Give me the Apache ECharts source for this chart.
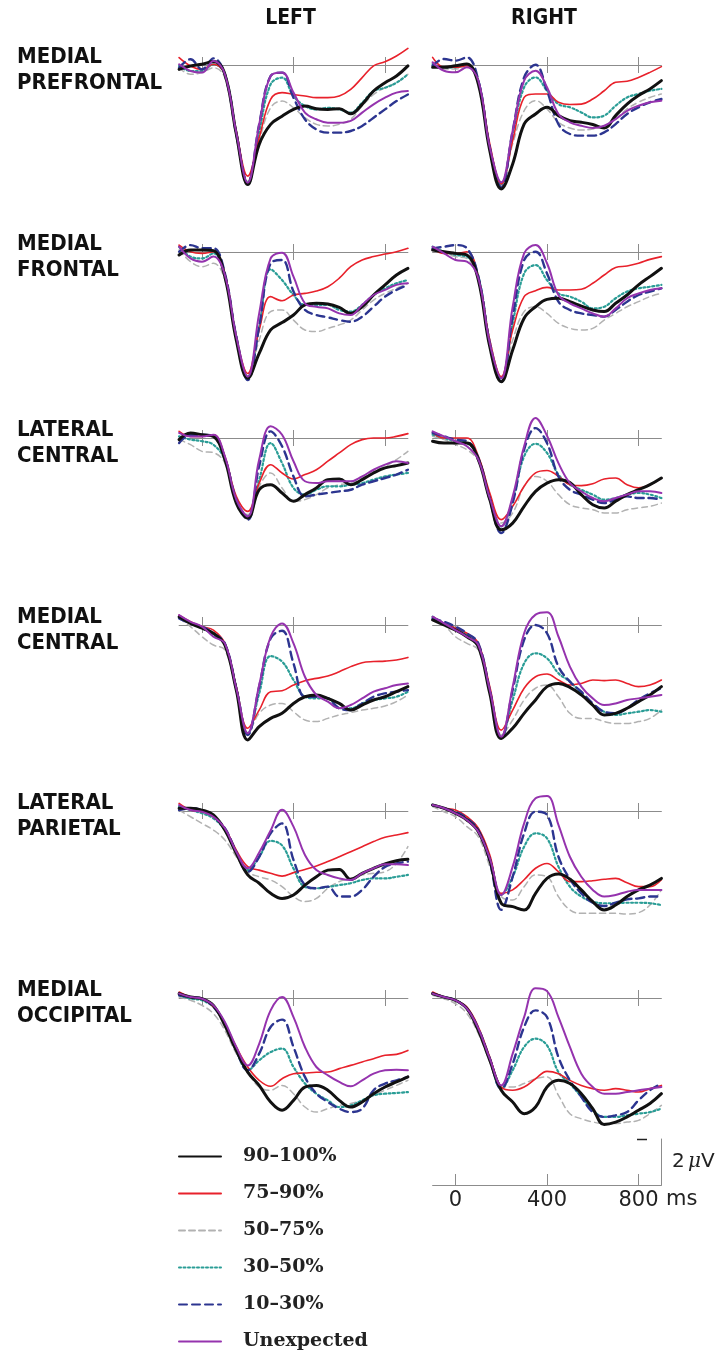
<!DOCTYPE html>
<html>
<head>
<meta charset="utf-8">
<script src="https://cdn.jsdelivr.net/npm/echarts@6/dist/echarts.min.js"></script>
<style>
  html, body { margin: 0; padding: 0; background: #ffffff; }
  #chart { width: 728px; height: 1355px; }
</style>
</head>
<body>
<div id="chart"></div>
<script>
// Sample times (ms) shared by every waveform
const times = [-100, -50, 0, 50, 100, 150, 200, 250, 300, 350, 400, 450, 500, 550, 600, 650, 700, 750, 800, 850, 900];
const timeTicks = [0, 400, 800];

// Condition groups (legend order)
const groups = ['90–100%', '75–90%', '50–75%', '30–50%', '10–30%', 'Unexpected'];
const groupKeys = ['g90', 'g75', 'g50', 'g30', 'g10', 'unexpected'];

const columnNames = ['LEFT', 'RIGHT'];
const rowNames = [
  ['MEDIAL', 'PREFRONTAL'],
  ['MEDIAL', 'FRONTAL'],
  ['LATERAL', 'CENTRAL'],
  ['MEDIAL', 'CENTRAL'],
  ['LATERAL', 'PARIETAL'],
  ['MEDIAL', 'OCCIPITAL']
];

// Grand-average amplitudes (µV) per region and hemisphere
const medialPrefrontalLeft = {
  g90: [-0.19,-0.04,0.03,0.15,-0.4,-3.0,-5.2,-3.45,-2.58,-2.23,-1.93,-1.78,-1.9,-1.93,-1.9,-2.12,-1.71,-1.13,-0.77,-0.48,-0.04],
  g75: [0.32,-0.04,-0.19,0.03,-0.4,-2.87,-4.83,-3.16,-1.49,-1.2,-1.28,-1.35,-1.42,-1.42,-1.35,-1.06,-0.55,-0.04,0.14,0.39,0.72],
  g50: [-0.12,-0.4,-0.33,-0.12,-0.55,-2.94,-5.04,-3.3,-1.86,-1.57,-1.86,-2.29,-2.58,-2.65,-2.58,-2.36,-1.78,-1.28,-0.99,-0.77,-0.4],
  g30: [-0.04,-0.26,-0.26,0.03,-0.4,-2.94,-5.12,-2.9,-0.84,-0.55,-1.35,-1.78,-1.93,-1.86,-1.93,-2.07,-1.64,-1.13,-0.99,-0.77,-0.4],
  g10: [-0.12,0.25,-0.19,0.29,-0.4,-3.01,-5.19,-2.58,-0.48,-0.33,-1.42,-2.36,-2.8,-2.94,-2.94,-2.87,-2.65,-2.29,-1.93,-1.57,-1.28],
  unexpected: [0.03,-0.26,-0.33,0.17,-0.4,-2.94,-5.12,-2.58,-0.48,-0.33,-1.2,-2.07,-2.36,-2.51,-2.51,-2.43,-2.07,-1.71,-1.42,-1.2,-1.13]
};
const medialPrefrontalRight = {
  g90: [-0.1,-0.1,-0.03,0.04,-0.83,-3.72,-5.39,-4.3,-2.57,-2.13,-1.84,-2.2,-2.42,-2.49,-2.59,-2.74,-2.2,-1.7,-1.33,-1.04,-0.68],
  g75: [0.33,-0.1,-0.1,-0.03,-0.68,-3.43,-5.17,-3.29,-1.41,-1.26,-1.26,-1.62,-1.72,-1.7,-1.48,-1.12,-0.75,-0.71,-0.54,-0.32,-0.07],
  g50: [-0.03,-0.17,-0.17,-0.1,-0.75,-3.58,-5.25,-3.43,-1.99,-1.55,-1.91,-2.49,-2.74,-2.83,-2.78,-2.64,-2.35,-1.91,-1.62,-1.41,-1.26],
  g30: [0.04,-0.1,-0.1,0.01,-0.68,-3.58,-5.17,-3.0,-0.97,-0.54,-1.12,-1.7,-1.84,-2.06,-2.28,-2.2,-1.77,-1.41,-1.26,-1.12,-1.04],
  g10: [-0.03,0.26,0.19,0.33,-0.68,-3.58,-5.32,-2.86,-0.54,0.01,-1.12,-2.57,-3.0,-3.07,-3.07,-2.93,-2.57,-2.13,-1.84,-1.62,-1.48],
  unexpected: [0.12,-0.25,-0.32,-0.1,-0.68,-3.58,-5.1,-2.86,-0.68,-0.25,-0.97,-2.13,-2.49,-2.64,-2.74,-2.64,-2.35,-1.99,-1.77,-1.62,-1.55]
};
const medialFrontalLeft = {
  g90: [-0.13,0.09,0.09,0.06,-1.07,-3.83,-5.49,-4.41,-3.39,-3.07,-2.74,-2.3,-2.23,-2.26,-2.41,-2.67,-2.38,-1.87,-1.43,-1.0,-0.71],
  g75: [0.3,0.01,-0.06,0.01,-0.93,-3.68,-5.28,-3.39,-1.94,-2.12,-1.87,-1.8,-1.7,-1.51,-1.14,-0.64,-0.35,-0.2,-0.09,0.01,0.16],
  g50: [0.09,-0.42,-0.64,-0.49,-1.22,-3.83,-5.42,-3.83,-2.59,-2.52,-2.96,-3.39,-3.46,-3.32,-3.17,-2.96,-2.52,-2.09,-1.8,-1.58,-1.36],
  g30: [0.23,-0.2,-0.28,-0.06,-1.07,-3.68,-5.42,-3.25,-0.75,-1.22,-1.87,-2.3,-2.3,-2.3,-2.52,-2.59,-2.3,-1.87,-1.58,-1.36,-1.22],
  g10: [0.01,0.3,0.16,0.16,-0.93,-3.68,-5.57,-3.25,-0.49,-0.35,-1.72,-2.52,-2.74,-2.84,-2.96,-3.03,-2.81,-2.38,-1.94,-1.65,-1.43],
  unexpected: [0.23,-0.28,-0.42,-0.2,-1.0,-3.68,-5.42,-2.67,-0.28,-0.03,-1.07,-2.23,-2.38,-2.45,-2.67,-2.74,-2.3,-1.87,-1.65,-1.43,-1.36]
};
const medialFrontalRight = {
  g90: [0.09,0.01,-0.06,-0.13,-1.22,-4.12,-5.64,-4.26,-2.88,-2.38,-2.06,-2.01,-2.16,-2.35,-2.52,-2.59,-2.23,-1.87,-1.43,-1.07,-0.71],
  g75: [0.16,-0.06,-0.06,0.01,-1.07,-3.83,-5.42,-3.39,-1.94,-1.68,-1.54,-1.65,-1.65,-1.62,-1.36,-1.0,-0.67,-0.61,-0.49,-0.32,-0.2],
  g50: [0.16,-0.06,-0.2,-0.28,-1.22,-4.04,-5.49,-3.83,-2.59,-2.38,-2.67,-3.1,-3.32,-3.39,-3.32,-2.96,-2.67,-2.38,-2.16,-1.94,-1.8],
  g30: [0.23,0.01,-0.13,-0.2,-1.07,-3.9,-5.49,-3.1,-0.93,-0.57,-1.22,-1.8,-1.94,-2.16,-2.45,-2.38,-2.01,-1.72,-1.58,-1.51,-1.43],
  g10: [0.16,0.23,0.3,0.16,-1.07,-3.97,-5.64,-2.81,-0.35,0.01,-0.93,-2.16,-2.52,-2.67,-2.74,-2.81,-2.52,-2.16,-1.87,-1.72,-1.58],
  unexpected: [0.23,-0.06,-0.35,-0.42,-1.14,-3.97,-5.49,-2.38,-0.06,0.3,-0.49,-1.87,-2.23,-2.45,-2.67,-2.81,-2.45,-2.01,-1.8,-1.65,-1.58]
};
const lateralCentralLeft = {
  g90: [-0.07,0.22,0.14,0.07,-0.94,-2.83,-3.48,-2.25,-2.03,-2.39,-2.75,-2.46,-2.17,-1.81,-1.78,-2.03,-1.81,-1.52,-1.3,-1.2,-1.09],
  g75: [0.29,0.07,0.07,0.14,-0.8,-2.54,-3.19,-1.96,-1.16,-1.52,-1.78,-1.59,-1.38,-1.01,-0.65,-0.29,-0.07,0,0,0.07,0.19],
  g50: [-0.07,-0.29,-0.58,-0.64,-1.09,-2.83,-3.33,-2.1,-1.52,-2.17,-2.75,-2.68,-2.46,-2.17,-2.03,-1.96,-1.74,-1.45,-1.23,-0.94,-0.58],
  g30: [0.07,-0.07,-0.14,-0.29,-0.94,-2.68,-3.41,-1.81,-0.22,-1.09,-2.17,-2.46,-2.25,-2.1,-2.1,-2.03,-1.96,-1.81,-1.67,-1.59,-1.52],
  g10: [-0.22,0.14,0.14,0.07,-0.87,-2.68,-3.55,-1.23,0.29,-0.36,-1.67,-2.54,-2.46,-2.39,-2.32,-2.25,-2.03,-1.88,-1.74,-1.59,-1.38],
  unexpected: [0.22,0.07,0.07,0.14,-0.8,-2.68,-3.41,-0.94,0.51,0.14,-1.01,-1.88,-1.96,-1.88,-1.88,-1.88,-1.67,-1.38,-1.16,-1.01,-1.09]
};
const lateralCentralRight = {
  g90: [-0.14,-0.22,-0.22,-0.22,-0.94,-2.68,-3.99,-3.7,-2.97,-2.32,-1.96,-1.81,-1.94,-2.46,-2.9,-3.04,-2.75,-2.46,-2.25,-2.03,-1.74],
  g75: [0.22,0,0,0,-0.8,-2.39,-3.55,-2.97,-2.1,-1.52,-1.41,-1.67,-2.03,-2.07,-1.99,-1.78,-1.74,-2.03,-2.17,-2.03,-1.74],
  g50: [0.07,-0.07,-0.29,-0.51,-1.01,-2.54,-3.7,-3.26,-2.1,-1.67,-1.88,-2.46,-2.9,-3.04,-3.12,-3.26,-3.26,-3.12,-3.04,-2.97,-2.83],
  g30: [0.14,0,-0.14,-0.22,-0.87,-2.54,-3.84,-2.68,-0.8,-0.25,-0.65,-1.59,-2.03,-2.25,-2.46,-2.68,-2.61,-2.46,-2.39,-2.46,-2.61],
  g10: [0.22,0.07,-0.07,-0.14,-0.87,-2.68,-4.13,-2.83,-0.51,0.43,-0.22,-1.67,-2.25,-2.46,-2.68,-2.83,-2.68,-2.54,-2.61,-2.61,-2.68],
  unexpected: [0.29,0.07,-0.14,-0.36,-0.94,-2.61,-3.84,-2.54,-0.36,0.87,0.1,-1.09,-1.96,-2.32,-2.61,-2.75,-2.61,-2.46,-2.32,-2.32,-2.39]
};
const medialCentralLeft = {
  g90: [0.36,0.07,-0.14,-0.36,-0.87,-2.83,-5.0,-4.42,-4.06,-3.84,-3.41,-3.12,-3.04,-3.19,-3.41,-3.7,-3.48,-3.26,-3.12,-2.9,-2.68],
  g75: [0.43,0.14,-0.07,-0.22,-0.8,-2.68,-4.49,-3.7,-2.9,-2.86,-2.61,-2.42,-2.32,-2.22,-2.03,-1.81,-1.64,-1.59,-1.57,-1.52,-1.41],
  g50: [0.29,-0.07,-0.51,-0.87,-1.09,-2.83,-4.71,-3.84,-3.48,-3.41,-3.77,-4.13,-4.2,-4.06,-3.91,-3.81,-3.7,-3.62,-3.52,-3.33,-3.04],
  g30: [0.36,0.07,-0.14,-0.43,-0.87,-2.75,-4.71,-2.97,-1.35,-1.59,-2.39,-3.12,-3.19,-3.19,-3.62,-3.62,-3.41,-3.26,-3.19,-3.12,-2.9],
  g10: [0.29,0.07,-0.07,-0.36,-0.8,-2.75,-4.78,-2.68,-0.58,-0.25,-1.67,-3.12,-3.12,-3.19,-3.62,-3.7,-3.41,-3.12,-2.97,-2.9,-2.83],
  unexpected: [0.43,0.14,-0.07,-0.51,-0.8,-2.75,-4.71,-2.61,-0.51,0.07,-0.8,-2.25,-3.04,-3.33,-3.62,-3.48,-3.19,-2.9,-2.75,-2.61,-2.54]
};
const medialCentralRight = {
  g90: [0.22,0,-0.22,-0.51,-0.94,-2.97,-4.93,-4.49,-3.84,-3.26,-2.68,-2.54,-2.71,-3.04,-3.48,-3.91,-3.84,-3.62,-3.33,-3.04,-2.68],
  g75: [0.36,0.07,-0.14,-0.36,-0.8,-2.68,-4.57,-3.7,-2.75,-2.25,-2.13,-2.39,-2.61,-2.54,-2.39,-2.42,-2.39,-2.54,-2.68,-2.61,-2.39],
  g50: [0.29,0,-0.51,-0.8,-1.09,-2.83,-4.78,-4.13,-3.26,-2.75,-2.61,-3.12,-3.84,-4.06,-4.06,-4.2,-4.28,-4.28,-4.2,-4.06,-3.7],
  g30: [0.36,0.07,-0.14,-0.43,-0.87,-2.83,-4.86,-3.26,-1.67,-1.23,-1.45,-2.1,-2.46,-2.97,-3.48,-3.77,-3.91,-3.84,-3.77,-3.7,-3.77],
  g10: [0.29,0.14,-0.07,-0.36,-0.8,-2.83,-4.93,-2.83,-0.65,0,-0.36,-1.81,-2.46,-2.9,-3.41,-3.77,-3.84,-3.62,-3.26,-2.97,-2.75],
  unexpected: [0.36,0.07,-0.22,-0.51,-0.87,-2.83,-4.86,-2.68,-0.36,0.45,0.55,-0.5,-1.81,-2.68,-3.19,-3.48,-3.41,-3.26,-3.19,-3.12,-3.04]
};
const lateralParietalLeft = {
  g90: [0.12,0.12,0.04,-0.17,-0.83,-1.84,-2.78,-3.14,-3.58,-3.8,-3.65,-3.22,-2.86,-2.57,-2.54,-2.97,-2.71,-2.49,-2.3,-2.16,-2.1],
  g75: [0.33,0.04,-0.03,-0.25,-0.75,-1.7,-2.42,-2.57,-2.71,-2.83,-2.68,-2.54,-2.39,-2.2,-1.99,-1.77,-1.55,-1.33,-1.14,-1.04,-0.94],
  g50: [0.04,-0.25,-0.54,-0.83,-1.26,-1.99,-2.64,-2.86,-3.0,-3.29,-3.72,-3.94,-3.8,-3.36,-3.07,-2.93,-2.78,-2.71,-2.64,-2.28,-1.55],
  g30: [0.19,0.04,-0.1,-0.32,-0.83,-1.77,-2.57,-1.99,-1.3,-1.5,-2.5,-3.3,-3.36,-3.3,-3.22,-3.14,-3.0,-2.93,-2.93,-2.86,-2.78],
  g10: [0.04,0.12,0.04,-0.25,-0.75,-1.77,-2.64,-1.99,-0.97,-0.54,-2.13,-3.22,-3.36,-3.29,-3.72,-3.72,-3.43,-2.86,-2.43,-2.28,-2.2],
  unexpected: [0.26,0.04,-0.03,-0.25,-0.75,-1.77,-2.49,-1.8,-0.85,0.05,-0.68,-1.91,-2.57,-2.78,-2.93,-3.0,-2.71,-2.49,-2.32,-2.32,-2.35]
};
const lateralParietalRight = {
  g90: [0.26,0.12,-0.1,-0.39,-0.9,-2.13,-4.01,-4.16,-4.3,-3.58,-2.93,-2.74,-2.96,-3.43,-3.94,-4.3,-4.09,-3.72,-3.43,-3.22,-2.93],
  g75: [0.26,0.12,0.04,-0.25,-0.75,-1.91,-3.58,-3.43,-2.99,-2.49,-2.28,-2.64,-3.07,-3.07,-3.03,-2.97,-2.93,-3.12,-3.29,-3.29,-2.99],
  g50: [0.19,-0.03,-0.25,-0.68,-1.12,-2.42,-3.72,-3.87,-3.29,-2.78,-2.86,-3.72,-4.3,-4.45,-4.45,-4.45,-4.45,-4.48,-4.42,-4.09,-3.43],
  g30: [0.26,0.12,-0.1,-0.32,-0.83,-2.06,-3.65,-2.86,-1.55,-0.97,-1.19,-2.42,-3.29,-3.72,-3.94,-4.01,-4.01,-3.99,-3.99,-4.01,-4.09],
  g10: [0.26,0.12,-0.03,-0.32,-0.83,-2.2,-4.3,-2.86,-0.97,-0.03,-0.17,-1.99,-2.96,-3.58,-3.99,-4.13,-3.99,-3.84,-3.8,-3.72,-3.72],
  unexpected: [0.26,0.12,-0.1,-0.39,-0.9,-2.06,-3.65,-2.42,-0.54,0.55,0.65,-0.6,-1.99,-2.86,-3.43,-3.72,-3.65,-3.51,-3.43,-3.43,-3.43]
};
const medialOccipitalLeft = {
  g90: [0.19,0.04,-0.03,-0.32,-1.19,-2.28,-3.22,-3.8,-4.52,-4.88,-4.45,-3.87,-3.8,-4.01,-4.45,-4.74,-4.52,-4.16,-3.87,-3.65,-3.43],
  g75: [0.26,0.04,-0.03,-0.39,-1.12,-2.13,-3.0,-3.58,-3.84,-3.51,-3.29,-3.26,-3.23,-3.22,-3.07,-2.93,-2.78,-2.64,-2.49,-2.45,-2.28],
  g50: [0.04,-0.1,-0.32,-0.68,-1.41,-2.42,-3.22,-3.87,-4.01,-3.8,-4.16,-4.74,-4.96,-4.81,-4.67,-4.59,-4.45,-4.23,-4.01,-3.8,-3.58],
  g30: [0.12,-0.03,-0.1,-0.39,-1.12,-2.28,-3.14,-2.71,-2.35,-2.2,-3.0,-3.72,-4.16,-4.45,-4.74,-4.67,-4.45,-4.23,-4.16,-4.13,-4.09],
  g10: [0.12,0.04,-0.03,-0.39,-1.12,-2.28,-3.14,-2.42,-1.26,-0.94,-2.13,-3.43,-4.16,-4.52,-4.81,-4.96,-4.81,-4.01,-3.72,-3.58,-3.43],
  unexpected: [0.19,0.04,-0.03,-0.32,-1.04,-2.13,-2.93,-1.99,-0.54,0.04,-0.83,-2.13,-3.0,-3.36,-3.65,-3.84,-3.58,-3.29,-3.14,-3.12,-3.14]
};
const medialOccipitalRight = {
  g90: [0.19,0.04,-0.1,-0.46,-1.41,-2.71,-4.01,-4.52,-5.03,-4.74,-3.87,-3.58,-3.72,-4.16,-4.81,-5.5,-5.4,-5.17,-4.88,-4.59,-4.16],
  g75: [0.26,0.04,-0.1,-0.39,-1.26,-2.57,-3.87,-4.01,-3.87,-3.51,-3.19,-3.29,-3.58,-3.8,-3.94,-4.01,-3.94,-4.01,-4.09,-3.94,-3.8],
  g50: [0.12,-0.03,-0.25,-0.68,-1.55,-2.78,-3.87,-3.87,-3.72,-3.51,-3.43,-4.23,-5.03,-5.25,-5.39,-5.46,-5.46,-5.39,-5.32,-5.03,-4.67],
  g30: [0.19,0.04,-0.1,-0.46,-1.33,-2.64,-3.94,-3.14,-2.13,-1.77,-2.06,-3.22,-3.72,-4.3,-4.88,-5.17,-5.17,-5.1,-5.03,-4.96,-4.81],
  g10: [0.19,0.04,-0.1,-0.46,-1.33,-2.64,-3.94,-2.86,-1.26,-0.54,-0.83,-2.57,-3.58,-4.3,-4.96,-5.17,-5.1,-4.96,-4.45,-4.01,-3.72],
  unexpected: [0.19,0.04,-0.1,-0.46,-1.33,-2.64,-3.8,-2.42,-0.83,0.42,0.3,-0.83,-2.13,-3.29,-3.87,-4.16,-4.16,-4.09,-4.01,-3.94,-3.87]
};

const panels = [
  [medialPrefrontalLeft, medialPrefrontalRight],
  [medialFrontalLeft, medialFrontalRight],
  [lateralCentralLeft, lateralCentralRight],
  [medialCentralLeft, medialCentralRight],
  [lateralParietalLeft, lateralParietalRight],
  [medialOccipitalLeft, medialOccipitalRight]
];

// ---- appearance ----
const styleByGroup = {
  g90:        { color: '#111111', width: 3,   type: 'solid' },
  g75:        { color: '#e8212b', width: 1.6, type: 'solid' },
  g50:        { color: '#b2b2b2', width: 1.5, type: [6, 4] },
  g30:        { color: '#2a9d96', width: 2.2, type: [2, 2.5] },
  g10:        { color: '#2c3590', width: 2.4, type: [8, 5] },
  unexpected: { color: '#9533ae', width: 2,   type: 'solid' }
};
const drawOrder = ['g50', 'g30', 'g75', 'g10', 'g90', 'unexpected'];

const colLeft = [179.1, 432.6];
const colWidth = 228.8;
const zeroY = [65, 252, 438, 625, 811, 998];
const pxPerUV = 23;
const yMin = -6, yMax = 2;
const axisGray = '#8c8c8c';
const labelFont = "'DejaVu Sans Condensed', 'DejaVu Sans', sans-serif";

const grid = [], xAxis = [], yAxis = [], series = [], graphic = [];

panels.forEach((row, r) => {
  row.forEach((panel, c) => {
    const gi = grid.length;
    grid.push({
      left: colLeft[c], width: colWidth,
      top: zeroY[r] - yMax * pxPerUV, height: (yMax - yMin) * pxPerUV
    });
    // zero line with ticks pointing down
    xAxis.push({
      gridIndex: gi, type: 'value', min: -100, max: 900, position: 'bottom',
      axisLine: { show: true, onZero: true, onZeroAxisIndex: 2 * gi, lineStyle: { color: axisGray, width: 1 } },
      axisTick: { show: true, customValues: timeTicks, length: 8, lineStyle: { color: axisGray, width: 1 } },
      axisLabel: { show: false }, splitLine: { show: false }
    });
    // same zero line, ticks pointing up
    xAxis.push({
      gridIndex: gi, type: 'value', min: -100, max: 900, position: 'top',
      axisLine: { show: false, onZero: true, onZeroAxisIndex: 2 * gi + 1 },
      axisTick: { show: true, customValues: timeTicks, length: 8, lineStyle: { color: axisGray, width: 1 } },
      axisLabel: { show: false }, splitLine: { show: false }
    });
    yAxis.push({ gridIndex: gi, type: 'value', min: yMin, max: yMax, show: false });
    yAxis.push({ gridIndex: gi, type: 'value', min: yMin, max: yMax, show: false });

    drawOrder.forEach(key => {
      const st = styleByGroup[key];
      series.push({
        name: groups[groupKeys.indexOf(key)],
        type: 'line',
        xAxisIndex: 2 * gi, yAxisIndex: 2 * gi,
        data: times.map((t, i) => [t, panel[key][i]]),
        smooth: 0.4,
        symbol: 'none',
        silent: true,
        animation: false,
        lineStyle: { color: st.color, width: st.width, type: st.type, cap: 'round', join: 'round' },
        itemStyle: { color: st.color }
      });
    });
  });
});

// Time scale under the right column, with the 2 µV amplitude bar
const scaleGrid = grid.length;
grid.push({ left: colLeft[1], width: colWidth, top: 1139, height: 46 });
xAxis.push({
  gridIndex: scaleGrid, type: 'value', min: -100, max: 900, position: 'bottom',
  axisLine: { show: true, onZero: false, lineStyle: { color: axisGray, width: 1 } },
  axisTick: { show: true, inside: true, customValues: timeTicks, length: 11, lineStyle: { color: axisGray, width: 1 } },
  axisLabel: { show: true, customValues: timeTicks, fontSize: 21, color: '#222', margin: 5, fontFamily: "'DejaVu Sans', sans-serif" },
  splitLine: { show: false }
});
yAxis.push({
  gridIndex: scaleGrid, type: 'value', min: 0, max: 2, position: 'right',
  axisLine: { show: true, onZero: false, lineStyle: { color: axisGray, width: 1 } },
  axisTick: { show: false }, axisLabel: { show: false }, splitLine: { show: false }
});

// Column headers, centred over each column
columnNames.forEach((name, c) => {
  graphic.push({
    type: 'text', x: colLeft[c] + colWidth / 2 - 3, y: 19,
    style: { text: name, font: `bold 21px ${labelFont}`, fill: '#111', align: 'center', verticalAlign: 'middle' }
  });
});
// Region labels
rowNames.forEach((lines, r) => {
  graphic.push({
    type: 'text', left: 17, top: zeroY[r] - 21,
    style: { text: lines.join('\n'), font: `bold 22px ${labelFont}`, fill: '#111', lineHeight: 26 }
  });
});
// Unit text and amplitude bar cap
graphic.push({
  type: 'text', left: 666, top: 1189,
  style: { text: 'ms', font: "21px 'DejaVu Sans', sans-serif", fill: '#222' }
});
graphic.push({
  type: 'text', left: 672, top: 1152,
  style: {
    text: '{n|2} {u|μ}{n|V}',
    rich: {
      n: { font: "20px 'DejaVu Sans', sans-serif", fill: '#222' },
      u: { font: "italic 20px 'DejaVu Serif', serif", fill: '#222' }
    }
  }
});
graphic.push({
  type: 'line', shape: { x1: 637, y1: 1139.5, x2: 647, y2: 1139.5 },
  style: { stroke: '#222', lineWidth: 1.5 }
});

const chart = echarts.init(document.getElementById('chart'), null, { renderer: 'canvas' });
chart.setOption({
  backgroundColor: '#ffffff',
  animation: false,
  grid, xAxis, yAxis, series, graphic,
  legend: {
    data: groups,
    orient: 'vertical',
    left: 178, top: 1147,
    padding: 0,
    itemWidth: 42, itemHeight: 14, itemGap: 18,
    selectedMode: false,
    itemStyle: { opacity: 0 },
    textStyle: { fontFamily: "'DejaVu Serif', serif", fontWeight: 'bold', fontSize: 19, color: '#222', padding: [0, 0, 0, 17] }
  }
});
</script>
</body>
</html>
